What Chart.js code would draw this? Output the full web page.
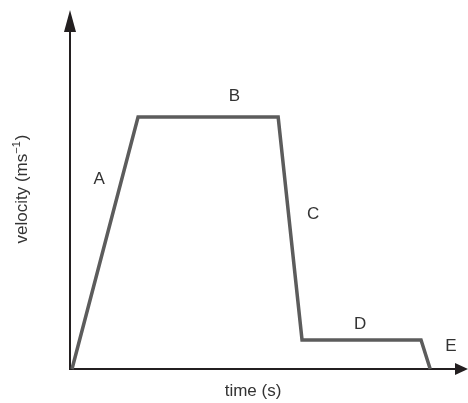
<!DOCTYPE html>
<html>
<head>
<meta charset="utf-8">
<script src="https://cdn.jsdelivr.net/npm/chart.js@4/dist/chart.umd.min.js"></script>
<style>
  html, body { margin: 0; padding: 0; background: #fff; }
  #wrap { width: 468px; height: 403px; }
</style>
</head>
<body>
<div id="wrap"><canvas id="myChart" width="468" height="403"></canvas></div>
<script>
// velocity-time graph, values (arbitrary units 0-100)
const times = [0.5, 17.1, 52.3, 58.3, 88.2, 90.5];
const velocities = [0, 70.2, 70.2, 8.1, 8.1, 0];

// segment letters and where they sit (same units)
const segmentNames = ['A', 'B', 'C', 'D', 'E'];
const segmentTimes = [7.3, 41.3, 61.1, 72.9, 95.7];
const segmentVelocities = [52.9, 76.0, 43.2, 12.5, 6.4];

const xTitle = 'time (s)';
// y title in three parts so the unit power can be raised
const yTitleParts = ['velocity (ms', '\u22121', ')'];

const textFont = '17px "Liberation Sans", Arial, sans-serif';
const supFont = '11px "Liberation Sans", Arial, sans-serif';
const textColor = '#333333';
const axisColor = '#231f20';

// axes with arrow heads, axis titles and segment letters
const sketchPlugin = {
    id: 'sketch',
    beforeDatasetsDraw(chart) {
        const { ctx, chartArea, scales } = chart;
        const x0 = scales.x.getPixelForValue(0);
        const y0 = scales.y.getPixelForValue(0);
        ctx.save();
        ctx.strokeStyle = axisColor;
        ctx.fillStyle = axisColor;
        ctx.lineWidth = 2;
        // y axis
        ctx.beginPath();
        ctx.moveTo(x0, y0 + 1);
        ctx.lineTo(x0, chartArea.top + 18);
        ctx.stroke();
        ctx.beginPath();
        ctx.moveTo(x0, chartArea.top);
        ctx.lineTo(x0 - 6, chartArea.top + 22);
        ctx.lineTo(x0 + 6, chartArea.top + 22);
        ctx.closePath();
        ctx.fill();
        // x axis
        ctx.beginPath();
        ctx.moveTo(x0 - 1, y0);
        ctx.lineTo(chartArea.right - 10, y0);
        ctx.stroke();
        ctx.beginPath();
        ctx.moveTo(chartArea.right, y0);
        ctx.lineTo(chartArea.right - 13, y0 - 6);
        ctx.lineTo(chartArea.right - 13, y0 + 6);
        ctx.closePath();
        ctx.fill();
        ctx.restore();
    },
    afterDatasetsDraw(chart) {
        const { ctx, scales } = chart;
        ctx.save();
        ctx.font = textFont;
        ctx.fillStyle = textColor;
        ctx.textAlign = 'center';
        ctx.textBaseline = 'middle';
        segmentNames.forEach((name, i) => {
            ctx.fillText(name, scales.x.getPixelForValue(segmentTimes[i]), scales.y.getPixelForValue(segmentVelocities[i]));
        });
        ctx.fillText(xTitle, 253, 391);

        // rotated y title with superscript
        ctx.translate(21, 189);
        ctx.rotate(-Math.PI / 2);
        ctx.textAlign = 'left';
        ctx.textBaseline = 'alphabetic';
        const w0 = ctx.measureText(yTitleParts[0]).width;
        const w2 = ctx.measureText(yTitleParts[2]).width;
        ctx.font = supFont;
        const w1 = ctx.measureText(yTitleParts[1]).width + 1;
        let x = -(w0 + w1 + w2) / 2;
        const base = 6;
        ctx.font = textFont;
        ctx.fillText(yTitleParts[0], x, base);
        x += w0;
        ctx.font = supFont;
        ctx.fillText(yTitleParts[1], x, base - 7);
        x += w1;
        ctx.font = textFont;
        ctx.fillText(yTitleParts[2], x, base);
        ctx.restore();
    }
};

const ctx = document.getElementById('myChart').getContext('2d');
new Chart(ctx, {
    type: 'scatter',
    data: {
        datasets: [
            {
                label: 'velocity',
                data: times.map((t, i) => ({ x: t, y: velocities[i] })),
                showLine: true,
                borderColor: '#5c5c5c',
                borderWidth: 3.5,
                borderJoinStyle: 'miter',
                pointRadius: 0,
                clip: false,
                tension: 0,
            },
        ],
    },
    options: {
        responsive: false,
        animation: false,
        devicePixelRatio: 1,
        layout: { padding: { left: 70, right: 0, top: 10, bottom: 34 } },
        plugins: {
            legend: { display: false },
            tooltip: { enabled: false },
        },
        scales: {
            x: { type: 'linear', min: 0, max: 100, display: false },
            y: { type: 'linear', min: 0, max: 100, display: false },
        },
    },
    plugins: [sketchPlugin],
});
</script>
</body>
</html>
